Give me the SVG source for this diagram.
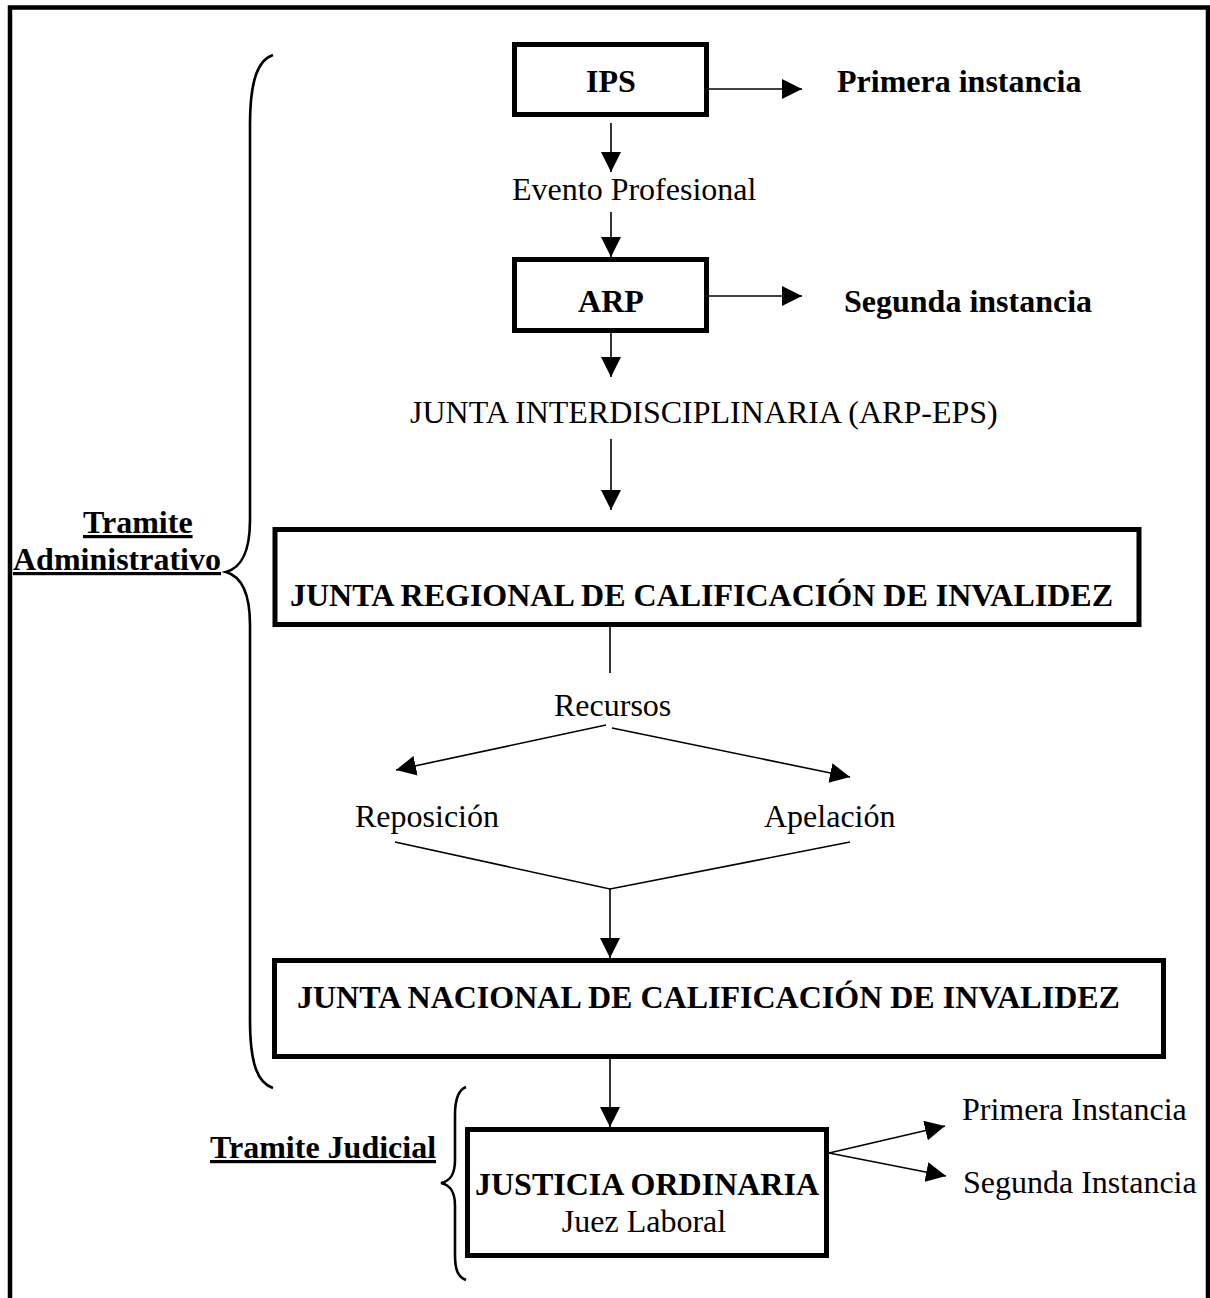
<svg xmlns="http://www.w3.org/2000/svg" width="1210" height="1298" viewBox="0 0 1210 1298">
<style>
.box{fill:#fff;stroke:#000;stroke-width:5}
.b{font-family:"Liberation Serif","Times New Roman",serif;font-weight:bold;font-size:32px;fill:#000}
.r{font-family:"Liberation Serif","Times New Roman",serif;font-size:32px;fill:#000}
.c{text-anchor:middle}
.u{text-decoration:underline}
.ln{fill:none;stroke:#000;stroke-width:1.6}
.br{fill:none;stroke:#000;stroke-width:2.6}
</style>
<defs>
<marker id="ah" viewBox="0 0 20 20" refX="20" refY="10" markerWidth="20" markerHeight="20" markerUnits="userSpaceOnUse" orient="auto">
<path d="M0,0 L20,10 L0,20 z" fill="#000"/>
</marker>
</defs>
<rect width="1210" height="1298" fill="#fff"/>
<path id="frame" d="M10,1298 V7.5 H1208 V1298" fill="none" stroke="#000" stroke-width="4.5"/>

<g id="brace-admin">
<path class="br" d="M273,55 C258,60 250,80 250,125 L250,520 C250,555 240,568 226,572 C240,576 250,590 250,625 L250,1020 C250,1065 258,1083 273,1088"/>
<text class="b u" x="83" y="533">Tramite</text>
<text class="b u" x="13" y="570">Administrativo</text>
</g>
<g id="brace-judicial">
<path class="br" d="M466,1087 C458,1090 455,1100 455,1115 L455,1160 C455,1175 450,1181 441,1183 C450,1185 455,1191 455,1206 L455,1255 C455,1270 458,1277 466,1280"/>
<text class="b u" x="210" y="1158">Tramite Judicial</text>
</g>

<g id="connectors">
<line class="ln" x1="709" y1="89" x2="802" y2="89" marker-end="url(#ah)"/>
<line class="ln" x1="611" y1="123" x2="611" y2="172" marker-end="url(#ah)"/>
<line class="ln" x1="611" y1="212" x2="611" y2="257" marker-end="url(#ah)"/>
<line class="ln" x1="709" y1="296" x2="802" y2="296" marker-end="url(#ah)"/>
<line class="ln" x1="611" y1="333" x2="611" y2="377" marker-end="url(#ah)"/>
<line class="ln" x1="611" y1="439" x2="611" y2="510" marker-end="url(#ah)"/>
<line class="ln" x1="610" y1="627" x2="610" y2="673"/>
<line class="ln" x1="606" y1="725" x2="396" y2="770" marker-end="url(#ah)"/>
<line class="ln" x1="612" y1="728" x2="850" y2="777" marker-end="url(#ah)"/>
<polyline class="ln" points="395,842 610,889 850,842"/>
<line class="ln" x1="610" y1="889" x2="610" y2="958" marker-end="url(#ah)"/>
<line class="ln" x1="610" y1="1059" x2="610" y2="1127" marker-end="url(#ah)"/>
<line class="ln" x1="829" y1="1153" x2="945" y2="1126" marker-end="url(#ah)"/>
<line class="ln" x1="829" y1="1153" x2="946" y2="1176" marker-end="url(#ah)"/>
</g>

<g id="ips">
<rect class="box" x="514.5" y="44.5" width="192" height="70"/>
<text class="b c" x="611" y="92">IPS</text>
</g>
<g id="primera">
<text class="b" x="837" y="92">Primera instancia</text>
</g>
<g id="evento">
<text class="r" x="512" y="200">Evento Profesional</text>
</g>
<g id="arp">
<rect class="box" x="514.5" y="259.5" width="192" height="71"/>
<text class="b c" x="611" y="312">ARP</text>
</g>
<g id="segunda">
<text class="b" x="844" y="312">Segunda instancia</text>
</g>
<g id="interdisciplinaria">
<text class="r" x="410" y="423">JUNTA INTERDISCIPLINARIA (ARP-EPS)</text>
</g>
<g id="regional">
<rect class="box" x="275" y="529.5" width="864" height="95"/>
<text class="b" x="290" y="606">JUNTA REGIONAL DE CALIFICACIÓN DE INVALIDEZ</text>
</g>
<g id="recursos">
<text class="r" x="554" y="716">Recursos</text>
</g>
<g id="reposicion">
<text class="r" x="355" y="827">Reposición</text>
</g>
<g id="apelacion">
<text class="r" x="764" y="827">Apelación</text>
</g>
<g id="nacional">
<rect class="box" x="274.5" y="960.5" width="889" height="96"/>
<text class="b" x="297" y="1008">JUNTA NACIONAL DE CALIFICACIÓN DE INVALIDEZ</text>
</g>
<g id="justicia">
<rect class="box" x="467.5" y="1129.5" width="359" height="126"/>
<text class="b c" x="647" y="1195">JUSTICIA ORDINARIA</text>
<text class="r c" x="644" y="1232">Juez Laboral</text>
</g>
<g id="primera-inst">
<text class="r" x="962" y="1120">Primera Instancia</text>
</g>
<g id="segunda-inst">
<text class="r" x="963" y="1193">Segunda Instancia</text>
</g>
</svg>
